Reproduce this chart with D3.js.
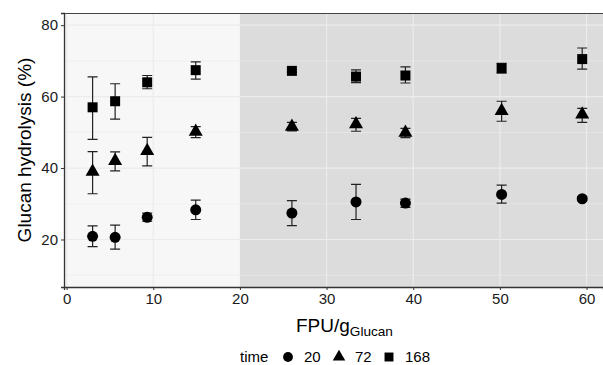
<!DOCTYPE html>
<html>
<head>
<meta charset="utf-8">
<script src="https://cdn.jsdelivr.net/npm/d3@7"></script>
<style>
  body { margin: 0; background: #fff; }
  text { font-family: "Liberation Sans", Arial, sans-serif; }
</style>
</head>
<body>
<div id="chart"></div>
<script>
// enzyme loading (FPU/g glucan)
const loadings = [3, 5.6, 9.3, 14.9, 26, 33.4, 39.1, 50.2, 59.5];
const times = ["20", "72", "168"];

// mean glucan hydrolysis (%) and error bar ends, one array per time
const mean20  = [20.9, 20.6, 26.2, 28.3, 27.4, 30.5, 30.2, 32.6, 31.4];
const low20   = [18.0, 17.3, 25.1, 25.6, 23.9, 25.6, 29.0, 30.2, 30.9];
const high20  = [23.8, 24.0, 27.4, 31.0, 30.9, 35.4, 31.3, 35.2, 31.9];

const mean72  = [39.0, 42.0, 44.8, 50.2, 51.6, 52.3, 49.9, 56.0, 55.0];
const low72   = [32.8, 39.2, 40.6, 48.5, 50.4, 50.3, 48.5, 53.1, 52.8];
const high72  = [44.6, 44.5, 48.6, 51.6, 52.8, 53.9, 51.1, 58.7, 56.7];

const mean168 = [57.0, 58.7, 64.0, 67.4, 67.2, 65.6, 65.9, 67.9, 70.5];
const low168  = [48.0, 53.7, 62.2, 64.9, 66.8, 63.9, 63.8, 66.6, 67.7];
const high168 = [65.5, 63.6, 65.9, 69.7, 67.6, 67.5, 68.3, 69.3, 73.6];

const xTicks = [0, 10, 20, 30, 40, 50, 60];
const yTicks = [20, 40, 60, 80];
const yMinor = [10, 30, 50, 70];

const series = [
  { time: times[0], shape: d3.symbolCircle,   size: 95,  mean: mean20,  low: low20,  high: high20 },
  { time: times[1], shape: d3.symbolTriangle, size: 85,  mean: mean72,  low: low72,  high: high72 },
  { time: times[2], shape: d3.symbolSquare,   size: 100, mean: mean168, low: low168, high: high168 }
];

const width = 603, height = 365;
const margin = { top: 13, right: 0, bottom: 78, left: 64 };

const svg = d3.select("#chart").append("svg")
  .attr("width", width)
  .attr("height", height);

const x = d3.scaleLinear().domain([-0.3, 61.9]).range([margin.left, width - margin.right]);
const y = d3.scaleLinear().domain([6.7, 83.4]).range([height - margin.bottom, margin.top]);

const plot = svg.append("g");

// shaded regions: low loading (<20) light, high loading dark
plot.append("rect")
  .attr("x", x.range()[0]).attr("y", y.range()[1])
  .attr("width", x(20) - x.range()[0]).attr("height", y.range()[0] - y.range()[1])
  .attr("fill", "#f7f7f7");
plot.append("rect")
  .attr("x", x(20)).attr("y", y.range()[1])
  .attr("width", x.range()[1] - x(20)).attr("height", y.range()[0] - y.range()[1])
  .attr("fill", "#dcdcdc");

// grid lines
const panels = [[x.range()[0], x(20), "#ebebeb"], [x(20), x.range()[1], "#ececec"]];
panels.forEach(([x0, x1, stroke]) => {
  plot.selectAll(null).data(yMinor).enter().append("line")
    .attr("x1", x0).attr("x2", x1)
    .attr("y1", d => y(d)).attr("y2", d => y(d))
    .attr("stroke", stroke).attr("stroke-width", 0.6);
  plot.selectAll(null).data(yTicks).enter().append("line")
    .attr("x1", x0).attr("x2", x1)
    .attr("y1", d => y(d)).attr("y2", d => y(d))
    .attr("stroke", stroke).attr("stroke-width", 1.2);
});
plot.selectAll(null).data(xTicks.filter(d => d !== 20)).enter().append("line")
  .attr("x1", d => x(d)).attr("x2", d => x(d))
  .attr("y1", y.range()[0]).attr("y2", y.range()[1])
  .attr("stroke", d => d < 20 ? "#ebebeb" : "#ececec").attr("stroke-width", 1.2);

// top border
plot.append("line")
  .attr("x1", x.range()[0]).attr("x2", x.range()[1])
  .attr("y1", y.range()[1] + 0.5).attr("y2", y.range()[1] + 0.5)
  .attr("stroke", "#444").attr("stroke-width", 1);

// axes
const xAxis = svg.append("g")
  .attr("transform", `translate(0,${y.range()[0]})`)
  .call(d3.axisBottom(x).tickValues(xTicks).tickSize(3).tickPadding(3));
const yAxis = svg.append("g")
  .attr("transform", `translate(${x.range()[0]},0)`)
  .call(d3.axisLeft(y).tickValues(yTicks).tickSize(3).tickPadding(3));

[xAxis, yAxis].forEach(a => {
  a.select(".domain").attr("stroke", "#333").attr("stroke-width", 1.3);
  a.selectAll(".tick line").attr("stroke", "#333");
  a.selectAll(".tick text").attr("fill", "#1a1a1a").style("font-size", "15px");
});

// error bars + points
series.forEach(s => {
  const g = svg.append("g");
  const pts = loadings.map((l, i) => ({ x: l, m: s.mean[i], lo: s.low[i], hi: s.high[i] }));
  const cap = 5;
  g.selectAll(null).data(pts).enter().append("path")
    .attr("d", d => `M${x(d.x) - cap},${y(d.hi)}H${x(d.x) + cap}M${x(d.x)},${y(d.hi)}V${y(d.lo)}M${x(d.x) - cap},${y(d.lo)}H${x(d.x) + cap}`)
    .attr("stroke", "#222").attr("stroke-width", 1.2).attr("fill", "none");
  g.selectAll(null).data(pts).enter().append("path")
    .attr("d", d3.symbol().type(s.shape).size(s.size))
    .attr("transform", d => `translate(${x(d.x)},${y(d.m)})`)
    .attr("fill", "#000");
});

// axis titles
const xt = svg.append("text")
  .attr("x", 296).attr("y", 332)
  .style("font-size", "19px")
  .attr("fill", "#000");
xt.append("tspan").text("FPU/g");
xt.append("tspan").attr("dy", 4).style("font-size", "13.6px").text("Glucan");

svg.append("text")
  .attr("transform", `translate(31,${(y.range()[0] + y.range()[1]) / 2}) rotate(-90)`)
  .attr("text-anchor", "middle")
  .style("font-size", "19px")
  .attr("fill", "#000")
  .text("Glucan hydrolysis (%)");

// legend
const legend = svg.append("g").attr("transform", "translate(240,357)");
legend.append("text").attr("x", 0).attr("y", 4.5).style("font-size", "15px").text("time");
const legX = [48, 99, 149];
series.forEach((s, i) => {
  legend.append("path")
    .attr("d", d3.symbol().type(s.shape).size(s.size * 0.8))
    .attr("transform", `translate(${legX[i]},0)`)
    .attr("fill", "#000");
  legend.append("text")
    .attr("x", legX[i] + 16).attr("y", 4.5)
    .style("font-size", "15px")
    .text(s.time);
});
</script>
</body>
</html>
